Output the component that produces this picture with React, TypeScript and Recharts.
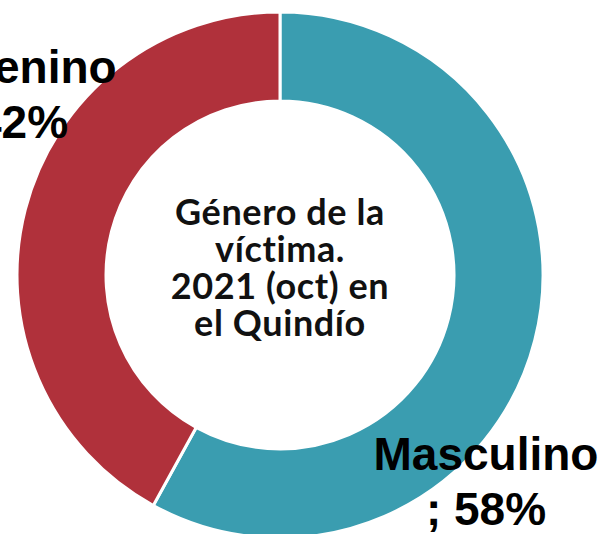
import React from "react";
import { PieChart, Pie, Cell } from "recharts";

// datos
const generos = ["Masculino", "Femenino"];
const porcentajes = [58, 42];
const colores = ["#3A9DB0", "#B0313B"];
const tituloCentro = ["Género de la", "víctima.", "2021 (oct) en", "el Quindío"];

const data = generos.map((g, i) => ({ name: g, value: porcentajes[i] }));

// desplazamiento de cada etiqueta respecto al centro (movidas a mano en el original)
const labelOffset: Record<string, [number, number]> = {
  Masculino: [206, 195],
  Femenino: [-272, -192],
};

const renderCentro = (cx: number, cy: number) => {
  const lineH = 37;
  const top = cy - 50;
  return (
    <text
      x={cx}
      y={top}
      textAnchor="middle"
      fill="#111"
      fontFamily="Lato, 'Open Sans', sans-serif"
      fontWeight="bold"
      fontSize={36}
      letterSpacing={0.6}
      style={{ fontVariantLigatures: "none" }}
    >
      {tituloCentro.map((t, i) => (
        <tspan key={t} x={cx} dy={i === 0 ? 0 : lineH}>
          {t}
        </tspan>
      ))}
    </text>
  );
};

const renderLabel = (props: any) => {
  const { cx, cy, name, value, index } = props;
  const [dx, dy] = labelOffset[name] || [0, 0];
  const x = cx + dx;
  const y = cy + dy;
  return (
    <g>
      {index === 0 && renderCentro(cx, cy)}
      <text
        x={x}
        y={y}
        textAnchor="middle"
        fill="#000"
        fontFamily="'Liberation Sans', Arial, sans-serif"
        fontWeight="bold"
        fontSize={46}
      >
        <tspan x={x} dy={0}>{name}</tspan>
        <tspan x={x} dy={55}>{`; ${value}%`}</tspan>
      </text>
    </g>
  );
};

const App: React.FC = () => {
  return (
    <div style={{ position: "absolute", left: 0, top: 0, width: 603, height: 534, background: "#fff", overflow: "hidden" }}>
      <PieChart width={603} height={534} margin={{ top: 0, right: 0, bottom: 0, left: 0 }}>
        <Pie
          data={data}
          dataKey="value"
          nameKey="name"
          cx={280}
          cy={275}
          innerRadius={174}
          outerRadius={263}
          startAngle={90}
          endAngle={-270}
          stroke="#fff"
          strokeWidth={3}
          label={renderLabel}
          labelLine={false}
          isAnimationActive={false}
        >
          {data.map((d, i) => (
            <Cell key={d.name} fill={colores[i]} />
          ))}
        </Pie>
      </PieChart>
    </div>
  );
};

export default App;
